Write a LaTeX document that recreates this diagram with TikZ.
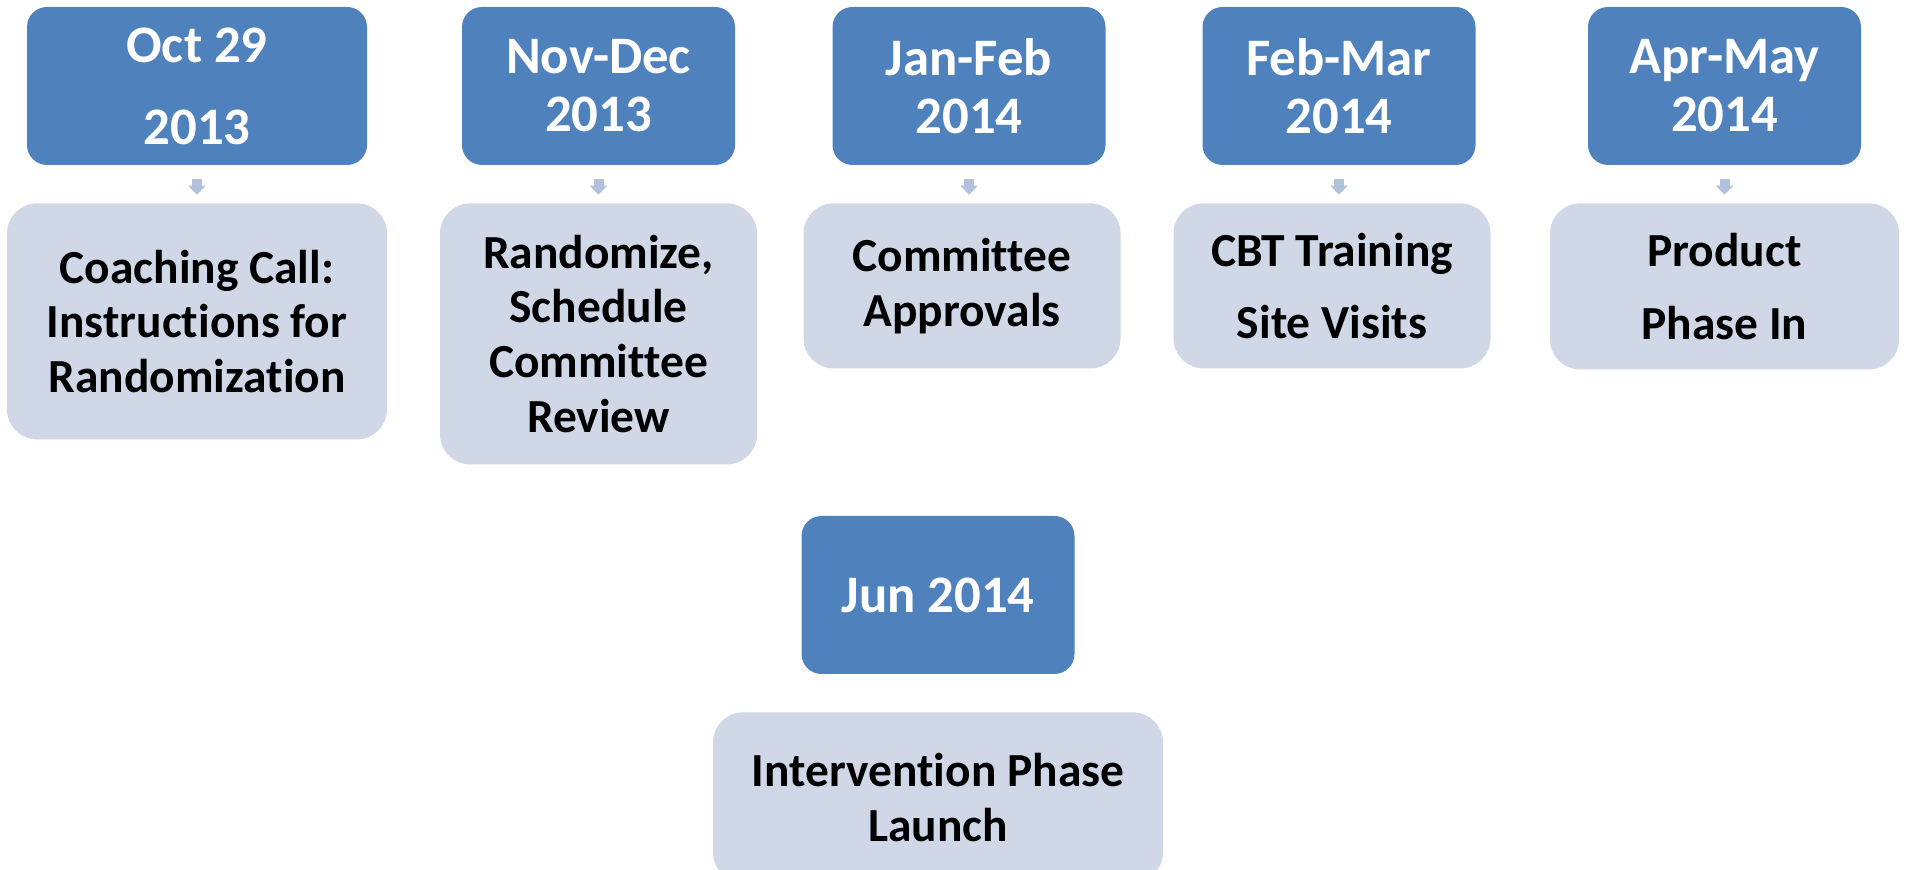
\documentclass[tikz,border=0pt]{standalone}
\usepackage{fontspec}
\setmainfont{Carlito}[Ligatures=NoCommon]
\usetikzlibrary{positioning,arrows.meta}

\definecolor{dateblue}{HTML}{4F81BD}
\definecolor{taskgray}{HTML}{D0D8E8}
\definecolor{arrowgray}{HTML}{B3C2DC}

\begin{document}
\begin{tikzpicture}[
    datebox/.style={fill=dateblue, rounded corners=0.2cm, text=white, align=center, inner sep=0pt,
        minimum width=2.73cm, minimum height=1.58cm, font=\fontsize{15}{16.5}\selectfont\bfseries},
    taskbox/.style={fill=taskgray, rounded corners=0.3cm, align=center, inner sep=0pt,
        minimum width=3.17cm, minimum height=1.65cm, font=\fontsize{13.5}{15.6}\selectfont\bfseries},
    flow/.style={-{Triangle[width=0.17cm,length=0.09cm]}, line width=0.1cm, arrowgray,
        shorten <=0.13cm, shorten >=0.08cm}
]
            \useasboundingbox (0,0) rectangle (19.12,8.7);

            \node[datebox, minimum width=3.40cm] (date1) at (1.97,7.84) {Oct 29\\[6.8pt]2013};
            \node[datebox] (date2) at (5.985,7.84) {Nov-Dec\\2013};
            \node[datebox] (date3) at (9.69,7.84) {Jan-Feb\\2014};
            \node[datebox] (date4) at (13.39,7.84) {Feb-Mar\\2014};
            \node[datebox] (date5) at (17.245,7.84) {Apr-May\\2014};
            \node[datebox] (date6) at (9.38,2.75) {Jun 2014};

            \node[taskbox, below=0.37 of date1, minimum width=3.80cm, minimum height=2.36cm] (task1) {Coaching Call:\\Instructions for\\Randomization};
            \node[taskbox, below=0.37 of date2, minimum height=2.61cm] (task2) {Randomize,\\Schedule\\Committee\\Review};
            \node[taskbox, below=0.37 of date3, xshift=-0.07cm] (task3) {Committee\\Approvals};
            \node[taskbox, below=0.37 of date4, xshift=-0.07cm] (task4) {CBT Training\\[5pt]Site Visits};
            \node[taskbox, below=0.37 of date5, minimum width=3.49cm, minimum height=1.66cm] (task5) {Product\\[5pt]Phase In};
            \node[taskbox, below=0.37 of date6, minimum width=4.50cm, minimum height=1.70cm] (task6) {Intervention Phase\\Launch};

            \foreach \i in {1,...,5}
                \draw[flow] (date\i.south) -- (date\i.south |- task\i.north);

\end{tikzpicture}
\end{document}
